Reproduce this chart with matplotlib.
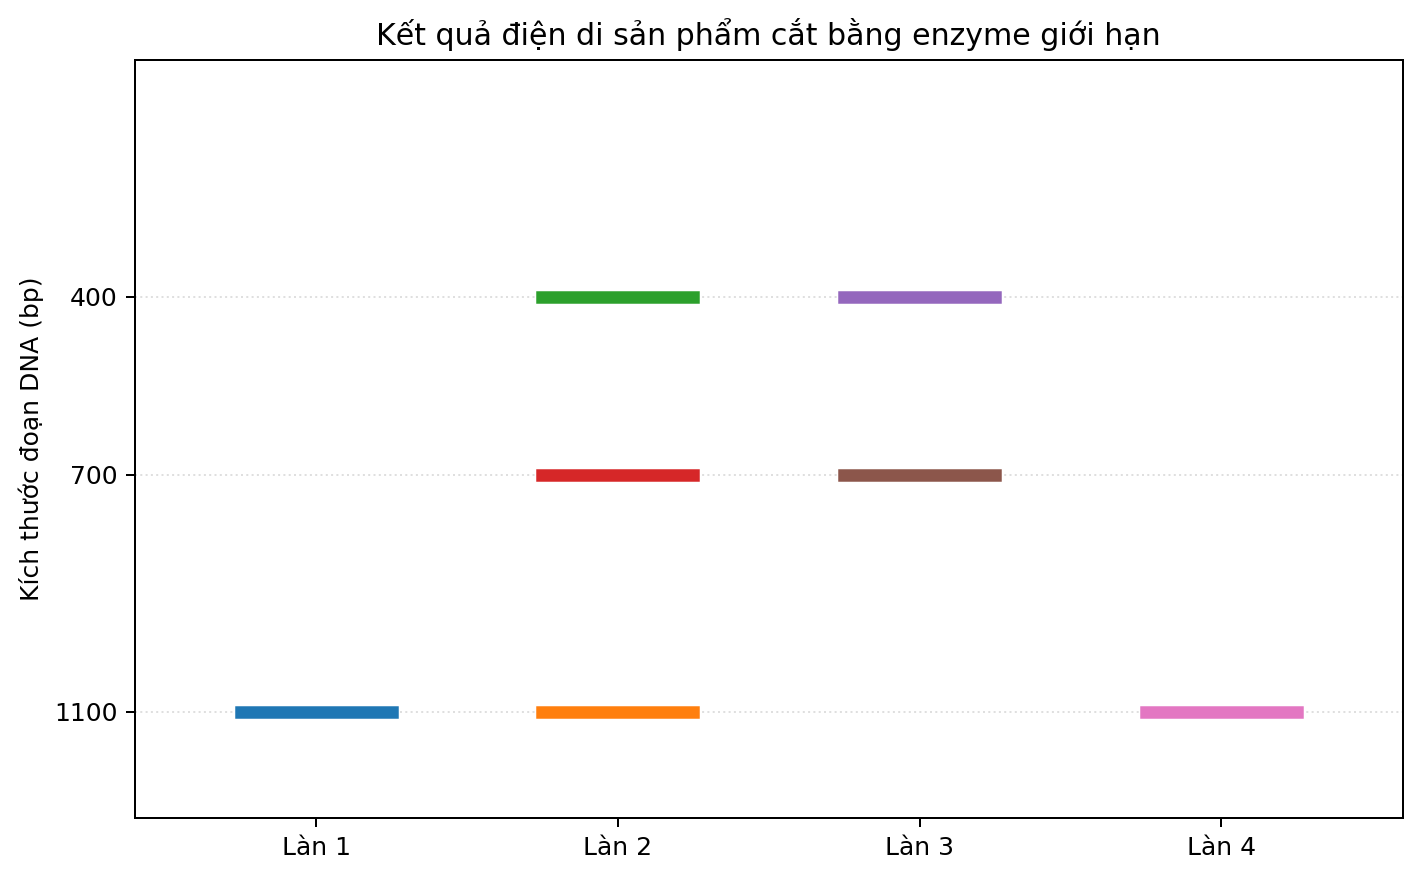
import matplotlib
matplotlib.use("Agg")
import matplotlib.pyplot as plt

lanes = ["Làn 1", "Làn 2", "Làn 3", "Làn 4"]
lane_pos = [1, 2, 3, 4]
# bands per lane (bp), in drawing order
band_lane = [1, 2, 2, 2, 3, 3, 4]
band_size = [1100, 1100, 400, 700, 400, 700, 1100]
tick_sizes = [400, 700, 1100]

fig, ax = plt.subplots(figsize=(1421 / 180, 878 / 180), dpi=180)
fig.subplots_adjust(left=0.095, right=0.987, top=0.932, bottom=0.068)

for lane, size in zip(band_lane, band_size):
    ax.plot([lane - 0.25, lane + 0.25], [size, size], linewidth=5)

ax.set_xlim(0.4, 4.6)
ax.set_ylim(1280, 0)
ax.set_xticks(lane_pos)
ax.set_xticklabels(lanes)
ax.set_yticks(tick_sizes)
ax.set_ylabel("Kích thước đoạn DNA (bp)")
ax.set_title("Kết quả điện di sản phẩm cắt bằng enzyme giới hạn")
ax.grid(axis="y", linestyle=":", alpha=0.4)

fig.savefig("out.png", dpi=180)
